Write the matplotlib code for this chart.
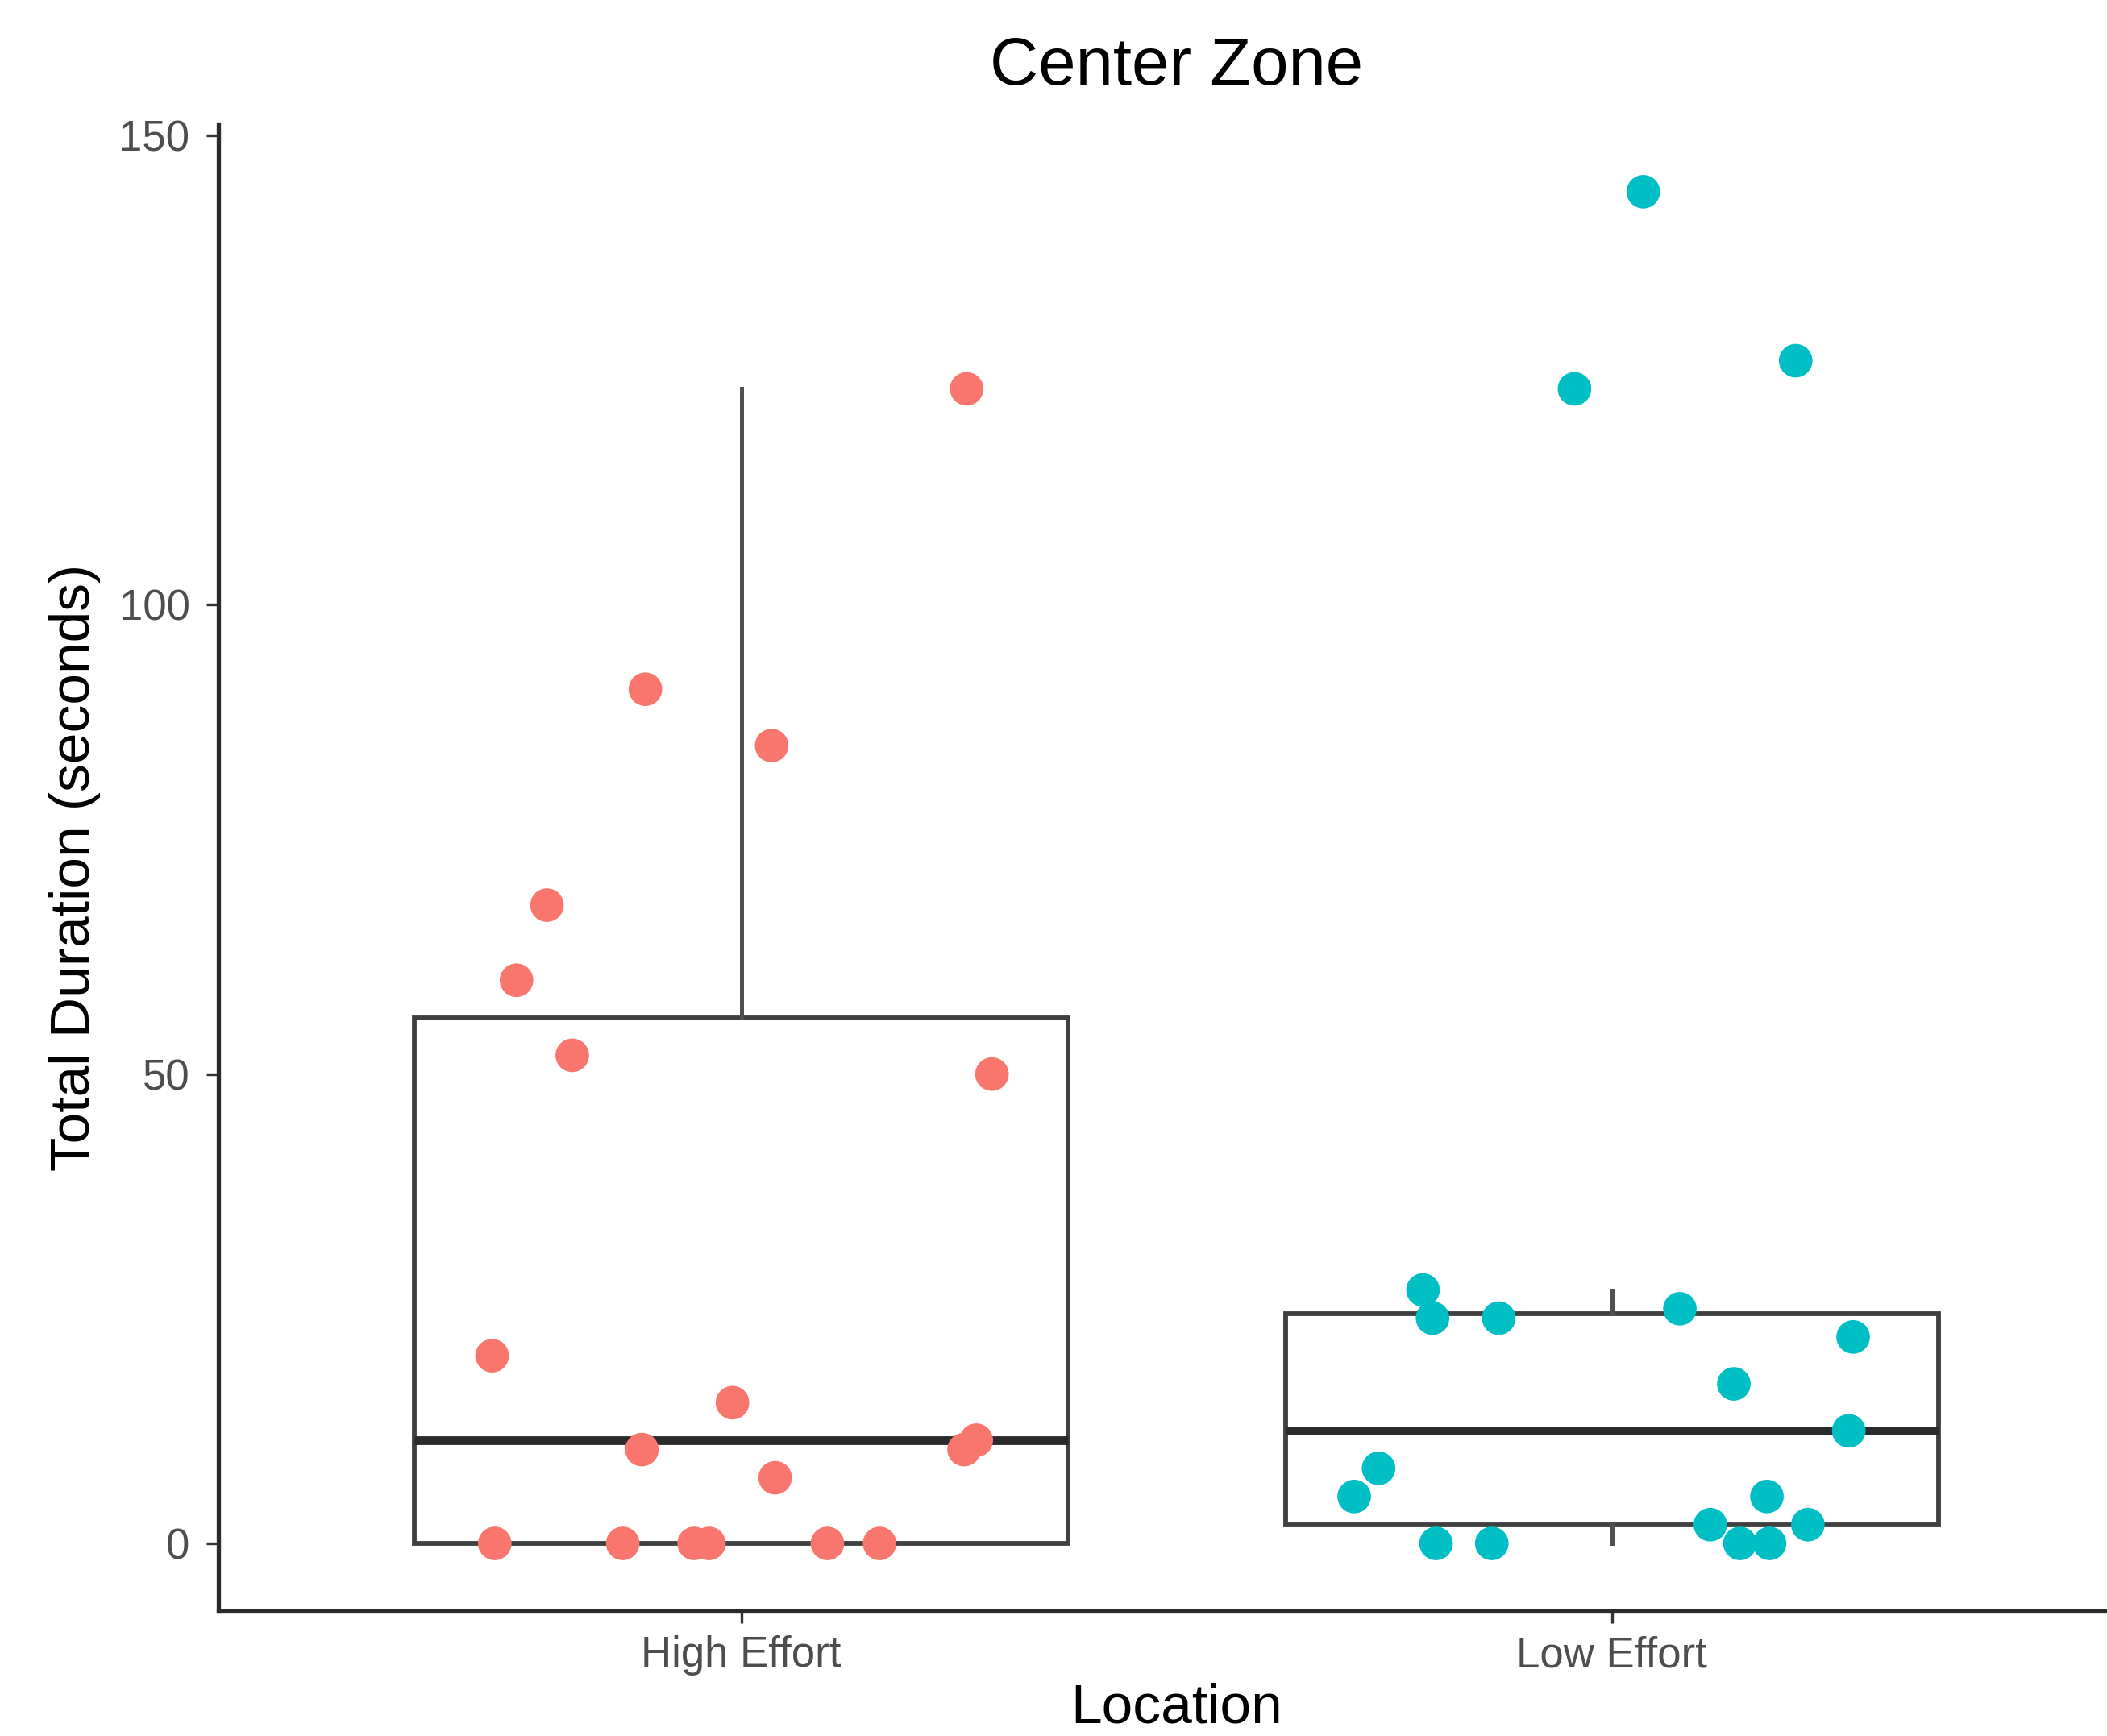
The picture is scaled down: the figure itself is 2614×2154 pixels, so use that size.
import matplotlib
matplotlib.use("Agg")
import matplotlib.pyplot as plt
import numpy as np

plt.rcParams['font.family'] = ['Liberation Sans', 'DejaVu Sans']

# ---- data ----
categories = ["High Effort", "Low Effort"]

high_values = [123, 91, 85, 68, 60, 52, 50, 20, 15, 10, 7, 10, 11, 0, 0, 0, 0, 0, 0]
high_jitter = [0.259, -0.110, 0.035, -0.223, -0.258, -0.194, 0.288, -0.286, -0.010,
               -0.114, 0.039, 0.256, 0.270, -0.283, -0.136, -0.054, -0.037, 0.099, 0.159]

low_values = [144, 123, 126, 27, 24, 24, 25, 22, 17, 12, 8, 5, 5, 2, 2, 0, 0, 0, 0]
low_jitter = [0.036, -0.043, 0.211, -0.217, -0.206, -0.130, 0.078, 0.277, 0.140, 0.272,
              -0.268, -0.296, 0.178, 0.113, 0.225, -0.202, -0.138, 0.147, 0.181]

yticks = [0, 50, 100, 150]
colors = ["#F8766D", "#00BFC4"]

# ---- figure ----
fig = plt.figure(figsize=(13.07, 10.77), dpi=200)
ax = fig.add_axes([0.1038, 0.0720, 0.9092, 0.8565])

positions = [1, 2]
box_col = "#404040"
ax.boxplot([high_values, low_values], positions=positions, widths=0.75,
           whis=1.5, showfliers=False, showcaps=False, patch_artist=True,
           boxprops=dict(facecolor="white", edgecolor=box_col, linewidth=2.1),
           whiskerprops=dict(color="#505050", linewidth=1.8),
           medianprops=dict(color="#2b2b2b", linewidth=3.9, solid_capstyle="butt"),
           zorder=2)

for pos, vals, jit, c in zip(positions, [high_values, low_values],
                             [high_jitter, low_jitter], colors):
    xs = np.array(jit) + pos
    ax.scatter(xs, vals, s=225, color=c, edgecolors="none", zorder=3)

ax.set_xlim(0.4, 2.6)
ax.set_ylim(-7.2, 151.2)
ax.set_xticks(positions)
ax.set_xticklabels(categories)
ax.set_yticks(yticks)

for side in ["top", "right"]:
    ax.spines[side].set_visible(False)
for side in ["left", "bottom"]:
    ax.spines[side].set_color("#2a2a2a")
    ax.spines[side].set_linewidth(1.9)

ax.tick_params(axis="both", length=5.4, width=1.2, color="#333333",
               labelcolor="#4D4D4D", labelsize=19)
ax.tick_params(axis="y", pad=7.5)
ax.tick_params(axis="x", pad=5.5)

ax.set_title("Center Zone", fontsize=30, pad=17.5, color="black")
ax.set_xlabel("Location", fontsize=25, labelpad=3, color="black")
ax.set_ylabel("Total Duration (seconds)", fontsize=25, labelpad=8, color="black")

fig.savefig("out.png", dpi=200)
